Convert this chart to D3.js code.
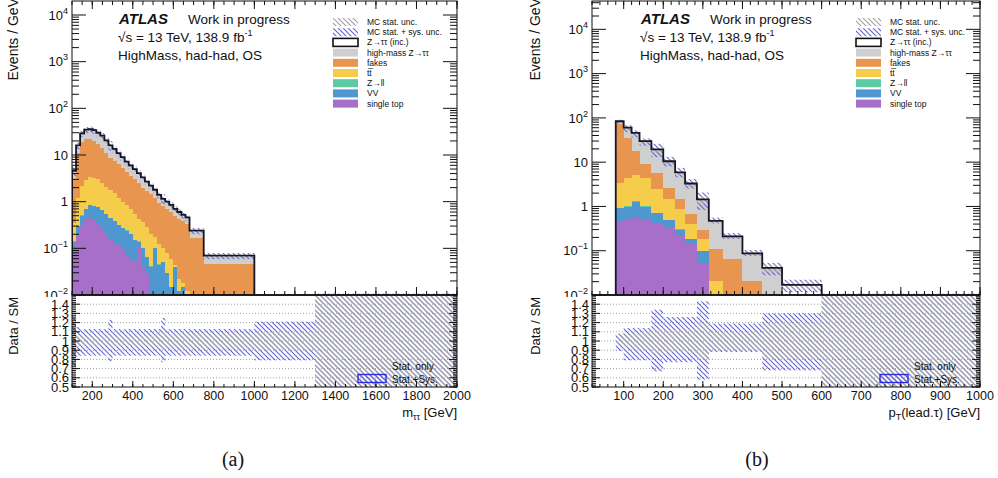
<!DOCTYPE html>
<html><head><meta charset="utf-8">
<script src="https://cdn.jsdelivr.net/npm/d3@7"></script>
<style>
body{margin:0;background:#fff}
svg{display:block}
text{font-family:"Liberation Sans",Arial,Helvetica,sans-serif;fill:#111}
</style></head>
<body><svg id="c" width="998" height="478"></svg>
<script>
// ---------------- DATA ----------------
const legendLabels = ["MC stat. unc.","MC stat. + sys. unc.","Z\u2192\u03c4\u03c4 (inc.)","high-mass Z\u2192\u03c4\u03c4","fakes","tt\u0305","Z\u2192ll","VV","single top"];
const seriesColors = ["#a76fc8","#4f97cf","#5ccaa5","#f5cd4b","#e8964f","#cfcfcf","#ffffff"]; // single top, VV, Z->ll, ttbar, fakes, high-mass, inc
const ratioLegend = ["Stat. only","Stat.+Sys."];

// (a) m_tautau
const massEdges = [100,120,140,160,180,200,220,240,260,280,300,320,340,360,380,400,420,440,460,480,500,520,540,560,580,600,620,640,660,680,750,1000,1300,2000];
const singleTopA = [0.08,0.2,0.3,0.4,0.45,0.42,0.35,0.27,0.2,0.16,0.13,0.11,0.09,0.07,0.055,0.05,0.1,0.04,0.03,0,0,0,0,0,0,0,0,0,0,0,0,0,0];
const vvA        = [0.06,0.1,0.2,0.3,0.4,0.38,0.4,0.38,0.35,0.29,0.25,0.21,0.18,0.17,0.145,0.1,0.04,0.06,0.035,0.04,0.1,0.045,0.05,0.03,0.015,0.04,0.012,0.015,0,0,0,0,0];
const zllA       = [0.002,0.004,0.006,0.008,0.009,0.009,0.008,0.007,0.006,0.005,0.004,0.004,0.003,0.003,0.002,0.002,0.002,0.001,0.001,0.001,0.001,0.001,0.001,0,0,0,0,0,0,0,0,0,0];
const ttbarA     = [0.21,0.9,1.7,2.2,2.45,2.4,2.25,1.85,1.55,1.35,1.12,0.88,0.73,0.61,0.5,0.4,0.28,0.26,0.215,0.16,0.07,0.075,0.05,0.05,0.045,0.005,0.01,0.003,0.012,0,0,0,0];
const fakesA     = [2.65,9.8,16.8,19.1,18.7,16.8,14.5,11.5,8.9,6.7,6.0,5.1,4.2,3.45,2.9,2.45,2.08,1.64,1.42,1.25,1.03,0.83,0.7,0.6,0.54,0.455,0.408,0.362,0.328,0.17,0.047,0.001,0];
const highMassA  = [1.37,4.2,8.55,11.25,12.2,12.3,11,10.7,8.5,6.7,5.3,4.15,3.35,2.54,2.1,1.75,1.4,1.13,0.86,0.64,0.51,0.38,0.29,0.27,0.21,0.165,0.14,0.114,0.097,0.058,0.0195,0.0005,0];
const ztautauIncA= [0.23,0.8,1.45,1.75,1.8,1.7,1.5,1.3,1.0,0.8,0.7,0.55,0.45,0.36,0.3,0.25,0.2,0.17,0.14,0.11,0.09,0.07,0.06,0.05,0.04,0.035,0.03,0.026,0.023,0.012,0.0035,0.0002,0];
const sysLoA  = [0.72,0.83,0.84,0.84,0.84,0.84,0.84,0.84,0.84,0.78,0.84,0.84,0.84,0.84,0.84,0.84,0.84,0.84,0.84,0.84,0.84,0.84,0.77,0.84,0.84,0.84,0.84,0.84,0.84,0.84,0.84,0.79,0];
const sysHiA  = [1.28,1.15,1.13,1.13,1.13,1.13,1.13,1.13,1.13,1.23,1.13,1.13,1.13,1.13,1.13,1.13,1.13,1.13,1.13,1.13,1.13,1.13,1.25,1.13,1.13,1.13,1.13,1.13,1.13,1.13,1.13,1.21,2];
const statLoA = [0.85,0.94,0.95,0.95,0.95,0.95,0.95,0.95,0.95,0.92,0.95,0.95,0.95,0.95,0.95,0.94,0.94,0.94,0.94,0.94,0.93,0.93,0.9,0.93,0.93,0.93,0.92,0.92,0.92,0.92,0.92,0.9,0];
const statHiA = [1.15,1.06,1.05,1.05,1.05,1.05,1.05,1.05,1.05,1.08,1.05,1.05,1.05,1.05,1.05,1.06,1.06,1.06,1.06,1.06,1.07,1.07,1.1,1.07,1.07,1.07,1.08,1.08,1.08,1.08,1.08,1.1,2];
const massTicks = [200,400,600,800,1000,1200,1400,1600,1800,2000];

// (b) pT(lead. tau)
const ptEdges = [80,100,120,140,170,200,230,255,285,315,350,400,450,500,600,1000];
const singleTopB = [0.45,0.5,0.55,0.52,0.42,0.32,0.22,0.14,0.05,0,0,0,0,0,0];
const vvB        = [0.47,0.49,0.74,0.47,0.29,0.18,0.08,0.04,0.05,0,0,0,0,0,0];
const zllB       = [0.01,0.01,0.012,0.01,0.008,0.006,0.004,0.002,0.001,0,0,0,0,0,0];
const ttbarB     = [2.47,3.4,3.7,3.4,1.7,0.93,0.56,0.22,0.08,0.021,0,0,0,0,0];
const fakesB     = [68.6,30.6,12.7,4.5,3.4,1.2,0.58,0.26,0.12,0.086,0.064,0.021,0,0,0];
const highMassB  = [8.5,22.6,26.5,19.9,12.8,7.44,4.22,2.51,1.08,0.343,0.136,0.062,0.039,0,0];
const ztautauIncB= [3.5,2.4,1.8,1.2,0.8,0.42,0.24,0.13,0.06,0.02,0.01,0.004,0.002,0.017,0];
const sysLoB  = [0.89,0.79,0.79,0.79,0.67,0.77,0.77,0.77,0.58,0.88,0.88,0.88,0.68,0.68,0];
const sysHiB  = [1.08,1.14,1.14,1.14,1.34,1.26,1.26,1.26,1.43,1.19,1.19,1.19,1.3,1.3,2];
const statLoB = [0.96,0.93,0.92,0.9,0.86,0.88,0.88,0.87,0.8,0.9,0.9,0.9,0.8,0.8,0];
const statHiB = [1.04,1.07,1.08,1.1,1.14,1.12,1.12,1.13,1.2,1.1,1.1,1.1,1.2,1.2,2];
const ptTicks = [100,200,300,400,500,600,700,800,900,1000];

const ratioTicks = [0.5,0.6,0.7,0.8,0.9,1,1.1,1.2,1.3,1.4];
const ratioGrid = [0.6,0.7,0.8,0.9,1,1.1,1.2,1.3,1.4];
const logTicks = [0.01,0.1,1,10,100,1000,10000];
const emptyBandTop = 0.0108;

// ---------------- DRAW ----------------
const svg = d3.select("#c");
const defs = svg.append("defs");
function hatch(id,color){
  const p = defs.append("pattern").attr("id",id).attr("patternUnits","userSpaceOnUse").attr("width",5).attr("height",5);
  p.append("path").attr("d","M-1,-1L6,6M-1,4L1,6M4,-1L6,1").attr("stroke",color).attr("stroke-width",1.1).attr("fill","none");
}
hatch("hb","#6262d6");
hatch("hg","#a0a0a0");

function line(g,x1,y1,x2,y2,w){
  g.append("line").attr("x1",x1).attr("y1",y1).attr("x2",x2).attr("y2",y2).attr("stroke","#111").attr("stroke-width",w||1);
}

function panel(o){
  const x=o.x, y=o.y, r=o.r, edges=o.edges, n=edges.length-1;
  const [X0,X1]=x.range(); const Yb=y.range()[0], Yt=y.range()[1];
  const ymin=y.domain()[0];
  const cy=v=>y(Math.max(v,ymin));
  const g=svg.append("g");
  defs.append("clipPath").attr("id","clip"+o.id).append("rect")
    .attr("x",X0).attr("y",Yt).attr("width",X1-X0).attr("height",Yb-Yt);
  const m=g.append("g").attr("clip-path",`url(#clip${o.id})`);
  const totals=[];
  for(let i=0;i<n;i++){
    let c=0;
    o.series.forEach((s,k)=>{
      const v=s[i], lo=c; c+=v;
      if(v>0 && c>ymin){
        m.append("rect").attr("x",x(edges[i])).attr("width",x(edges[i+1])-x(edges[i]))
          .attr("y",cy(c)).attr("height",cy(lo)-cy(c)).attr("fill",seriesColors[k])
          .attr("shape-rendering","crispEdges");
      }
    });
    totals.push(c);
  }
  // uncertainty bands in main
  for(let i=0;i<n;i++){
    const t=totals[i], xa=x(edges[i]), w=x(edges[i+1])-xa;
    if(t>0){
      if(t*o.sysHi[i]>ymin) m.append("rect").attr("x",xa).attr("width",w).attr("y",cy(t*o.sysHi[i])).attr("height",cy(t*o.sysLo[i])-cy(t*o.sysHi[i])).attr("fill","url(#hb)");
      if(t*o.statHi[i]>ymin) m.append("rect").attr("x",xa).attr("width",w).attr("y",cy(t*o.statHi[i])).attr("height",cy(t*o.statLo[i])-cy(t*o.statHi[i])).attr("fill","url(#hg)");
    } else {
      m.append("rect").attr("x",xa).attr("width",w).attr("y",y(emptyBandTop)).attr("height",Yb-y(emptyBandTop)).attr("fill","url(#hg)");
    }
  }
  // outline of Z->tautau (inc.) / total
  let last=-1; totals.forEach((t,i)=>{if(t>ymin) last=i;});
  let d=`M${x(edges[0])},${Yb}`;
  for(let i=0;i<=last;i++) d+=`V${cy(totals[i])}H${x(edges[i+1])}`;
  d+=`V${Yb}`;
  m.append("path").attr("d",d).attr("fill","none").attr("stroke","#151525").attr("stroke-width",1.8);
  // frame
  g.append("rect").attr("x",X0).attr("y",Yt).attr("width",X1-X0).attr("height",Yb-Yt).attr("fill","none").attr("stroke","#111");
  // y ticks
  const top=y.domain()[1];
  logTicks.forEach(v=>{
    line(g,X0,y(v),X0+14,y(v)); line(g,X1,y(v),X1-14,y(v));
    for(let k=2;k<=9;k++){const u=v*k; if(u<top){line(g,X0,y(u),X0+7,y(u)); line(g,X1,y(u),X1-7,y(u));}}
  });
  // x ticks on main (bottom + top)
  o.minor.forEach(v=>{line(g,x(v),Yb,x(v),Yb-4); line(g,x(v),Yt,x(v),Yt+4);});
  o.ticks.forEach(v=>{line(g,x(v),Yb,x(v),Yb-8); line(g,x(v),Yt,x(v),Yt+8);});
  // y labels
  logTicks.forEach(v=>{
    const e=Math.round(Math.log10(v));
    const t=g.append("text").attr("x",o.labX).attr("y",y(v)).attr("dy","0.36em").attr("text-anchor","end").style("font-size","13px");
    if(e===0) t.text("1");
    else if(e===1) t.text("10");
    else { t.append("tspan").text("10"); t.append("tspan").attr("dy",-6).style("font-size","9px").text(e<0?"\u2212"+(-e):String(e)); }
  });
  // y title
  g.append("text").attr("transform",`translate(${o.titX},-2) rotate(-90)`).attr("text-anchor","end").style("font-size","14px").text("Events / GeV");
  // ATLAS labels
  const tx=o.txtX;
  g.append("text").attr("x",tx+1).attr("y",24).style("font-size","15px").style("font-weight","bold").style("font-style","italic").text("ATLAS");
  g.append("text").attr("x",tx+70).attr("y",24).style("font-size","13.5px").text("Work in progress");
  const s2=g.append("text").attr("x",tx).attr("y",42).style("font-size","13.5px");
  s2.append("tspan").text("\u221As = 13 TeV, 138.9 fb");
  s2.append("tspan").attr("dy",-6).style("font-size","9px").text("-1");
  g.append("text").attr("x",tx).attr("y",60).style("font-size","13.5px").text("HighMass, had-had, OS");
  // legend
  const lx=o.legX, lw=25;
  legendLabels.forEach((lab,i)=>{
    const cyl=22+10.2*i;
    let fill, stroke="none", sw=0;
    if(i===0) fill="url(#hg)";
    else if(i===1) fill="url(#hb)";
    else if(i===2){fill="#fff"; stroke="#111"; sw=1.6;}
    else fill=seriesColors[8-i];
    g.append("rect").attr("x",lx).attr("y",cyl-4).attr("width",lw).attr("height",8).attr("fill",fill).attr("stroke",stroke).attr("stroke-width",sw);
    g.append("text").attr("x",lx+lw+9).attr("y",cyl+3).style("font-size","8.5px").text(lab);
  });

  // ---- ratio pad ----
  const rg=svg.append("g");
  rg.append("rect").attr("x",o.padX).attr("y",297).attr("width",o.padW).attr("height",100).attr("fill","#fff");
  const R0=r.range()[0], R1=r.range()[1];
  const rr=v=>r(Math.max(0.5,Math.min(1.5,v)));
  ratioGrid.forEach(v=>{
    rg.append("line").attr("x1",X0).attr("x2",X1).attr("y1",r(v)).attr("y2",r(v)).attr("stroke","#888").attr("stroke-width",0.8).attr("stroke-dasharray","1,2");
  });
  for(let i=0;i<n;i++){
    const xa=x(edges[i]), w=Math.min(x(edges[i+1]),X1)-xa;
    rg.append("rect").attr("x",xa).attr("width",w).attr("y",rr(o.sysHi[i])).attr("height",rr(o.sysLo[i])-rr(o.sysHi[i])).attr("fill","url(#hb)");
    rg.append("rect").attr("x",xa).attr("width",w).attr("y",rr(o.statHi[i])).attr("height",rr(o.statLo[i])-rr(o.statHi[i])).attr("fill","url(#hg)");
  }
  rg.append("rect").attr("x",X0).attr("y",R1).attr("width",X1-X0).attr("height",R0-R1).attr("fill","none").attr("stroke","#111");
  line(rg,X0,R1,X1,R1,1.3);
  // ratio y ticks
  d3.range(0.5,1.5001,0.02).forEach(v=>{line(rg,X0,r(v),X0+4,r(v)); line(rg,X1,r(v),X1-4,r(v));});
  ratioTicks.forEach(v=>{line(rg,X0,r(v),X0+8,r(v)); line(rg,X1,r(v),X1-8,r(v));});
  // ratio x ticks
  o.minor.forEach(v=>line(rg,x(v),R0,x(v),R0-3));
  o.ticks.forEach(v=>line(rg,x(v),R0,x(v),R0-6));
  // ratio labels
  ratioTicks.forEach(v=>{
    rg.append("text").attr("x",o.labX+1).attr("y",r(v)).attr("dy","0.36em").attr("text-anchor","end").style("font-size","13px").text(String(v));
  });
  o.ticks.forEach(v=>{
    rg.append("text").attr("x",x(v)).attr("y",400).attr("text-anchor","middle").style("font-size","12.5px").text(String(v));
  });
  rg.append("text").attr("transform",`translate(${o.titX},297) rotate(-90)`).attr("text-anchor","end").style("font-size","13px").text("Data / SM");
  // x title
  const xt=rg.append("text").attr("x",X1).attr("y",417).attr("text-anchor","end").style("font-size","13px");
  o.xtitle(xt);
  // ratio legend
  const bx=o.rlegX;
  rg.append("rect").attr("x",bx).attr("y",362).attr("width",28).attr("height",8).attr("fill","url(#hg)");
  rg.append("rect").attr("x",bx).attr("y",374.5).attr("width",28).attr("height",8).attr("fill","url(#hb)").attr("stroke","#2b2be6").attr("stroke-width",1.4);
  rg.append("text").attr("x",bx+34).attr("y",370).style("font-size","10px").text(ratioLegend[0]);
  rg.append("text").attr("x",bx+34).attr("y",383).style("font-size","10px").text(ratioLegend[1]);
  // caption
  svg.append("text").attr("x",o.capX).attr("y",466).attr("text-anchor","middle")
    .style("font-family","'Liberation Serif','DejaVu Serif',serif").style("font-size","20px").text(o.cap);
}

panel({
  id:"a",
  x:d3.scaleLinear([100,2000],[72,457]),
  y:d3.scaleLog([0.01,Math.pow(10,4.3)],[295,1]),
  r:d3.scaleLinear([0.5,1.5],[387,295]),
  edges:massEdges,
  series:[singleTopA,vvA,zllA,ttbarA,fakesA,highMassA,ztautauIncA],
  sysLo:sysLoA, sysHi:sysHiA, statLo:statLoA, statHi:statHiA,
  ticks:massTicks, minor:d3.range(100,2001,50),
  labX:68, titX:18, txtX:118, legX:333, padX:0, padW:499, rlegX:358,
  xtitle:t=>{t.append("tspan").text("m"); t.append("tspan").attr("dy",3).style("font-size","9px").text("\u03c4\u03c4"); t.append("tspan").attr("dy",-3).text(" [GeV]");},
  capX:233, cap:"(a)"
});
panel({
  id:"b",
  x:d3.scaleLinear([20,1000],[592,980]),
  y:d3.scaleLog([0.01,Math.pow(10,4.64)],[295,1]),
  r:d3.scaleLinear([0.5,1.5],[387,295]),
  edges:ptEdges,
  series:[singleTopB,vvB,zllB,ttbarB,fakesB,highMassB,ztautauIncB],
  sysLo:sysLoB, sysHi:sysHiB, statLo:statLoB, statHi:statHiB,
  ticks:ptTicks, minor:d3.range(20,1001,20),
  labX:588, titX:540, txtX:640, legX:856, padX:499, padW:499, rlegX:880,
  xtitle:t=>{t.append("tspan").text("p"); t.append("tspan").attr("dy",3).style("font-size","9px").text("T"); t.append("tspan").attr("dy",-3).text("(lead.\u03c4) [GeV]");},
  capX:757, cap:"(b)"
});
</script>
</body></html>
